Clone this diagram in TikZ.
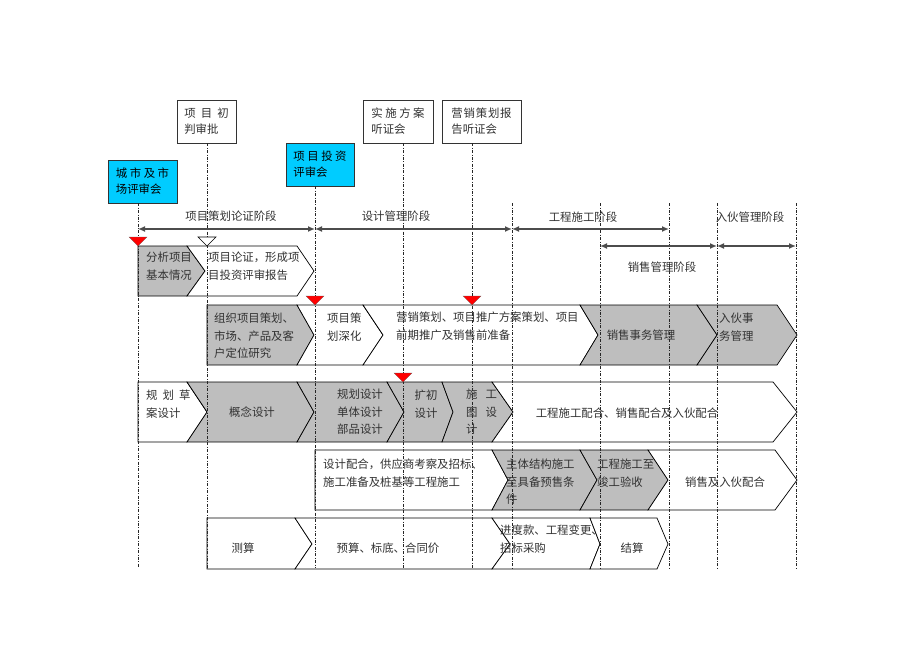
\documentclass[tikz,border=0pt]{standalone}
\usepackage{fontspec}
\newfontfamily\zhfont{Noto Sans CJK SC}
\usetikzlibrary{arrows.meta}

\definecolor{reviewcyan}{RGB}{0,204,255}
\definecolor{segfill}{RGB}{190,190,190}
\definecolor{inkgray}{RGB}{50,50,50}

\begin{document}
\begin{tikzpicture}[
  x=1pt, y=-1pt,
  font=\zhfont\fontsize{11.4}{17.5}\selectfont,
  meeting/.style={draw=black!80, fill=white, align=left, inner sep=0pt, text=inkgray,
    minimum height=43pt, font=\zhfont\fontsize{11.4}{16}\selectfont},
  review/.style={meeting, fill=reviewcyan, text=black},
  graystep/.style={draw=black, line width=0.7pt, fill=segfill},
  whitestep/.style={draw=black, line width=0.7pt, fill=white},
  steptext/.style={align=left, text=inkgray, inner sep=0pt},
  phasetext/.style={text=inkgray, inner sep=0pt},
  phasearrow/.style={<->, >={Latex[length=7pt,width=6pt]}, line width=1.5pt, draw=black!70},
  guide/.style={draw=black!85, line width=0.6pt, dash pattern=on 3pt off 1.5pt on 0.8pt off 1.5pt},
  redmark/.style={fill=red, draw=black!60, line width=0.3pt},
  openmark/.style={fill=white, draw=black, line width=0.6pt}
]
\useasboundingbox (0,0) rectangle (920,651);

% meetings on top
\node[meeting, minimum width=59pt] (judge) at (206.5,121.5) {项\ \ 目\ \ 初\\判审批};
\node[meeting, minimum width=70pt] (plan) at (398,121.5) {实\ 施\ 方\ 案\\听证会};
\node[meeting, minimum width=79pt] (mkt) at (481.5,121.5) {营\kern.8pt 销\kern.8pt 策\kern.8pt 划\kern.8pt 报\\告听证会};
\node[review, minimum width=69pt] (city) at (142.5,181.5) {城\ 市\ 及\ 市\\场评审会};
\node[review, minimum width=68pt] (invest) at (320,164.5) {项\ 目\ 投\ 资\\评审会};

% ends of the guide lines
\coordinate (b1) at (138,568);
\coordinate (b2) at (207,568);
\coordinate (b3) at (315,568);
\coordinate (b4) at (403,568);
\coordinate (b5) at (472,568);
\coordinate (b6) at (512,568);
\coordinate (b7) at (600,568);
\coordinate (b8) at (669,568);
\coordinate (b9) at (717,568);
\coordinate (b10) at (796,568);
\coordinate (t6) at (512,203);
\coordinate (t7) at (600,203);
\coordinate (t8) at (669,203);
\coordinate (t9) at (717,203);
\coordinate (t10) at (796,203);

% row 1: project argument
\draw[graystep] (138,246) -- (187,246) -- (205,271) -- (187,296) -- (138,296) -- cycle;
\draw[whitestep] (187,246) -- (297,246) -- (314,271) -- (297,296) -- (187,296) -- (205,271) -- cycle;

% row 2: planning and sales
\draw[graystep] (207,305) -- (297,305) -- (314,335) -- (297,365) -- (207,365) -- cycle;
\draw[whitestep] (297,305) -- (363,305) -- (383,335) -- (363,365) -- (297,365) -- (314,335) -- cycle;
\draw[whitestep] (363,305) -- (580,305) -- (598,335) -- (580,365) -- (363,365) -- (383,335) -- cycle;
\draw[graystep] (580,305) -- (697,305) -- (717,335) -- (697,365) -- (580,365) -- (598,335) -- cycle;
\draw[graystep] (697,305) -- (777,305) -- (797,335) -- (777,365) -- (697,365) -- (717,335) -- cycle;

% row 3: design
\draw[whitestep] (138,382) -- (187,382) -- (207,412) -- (187,442) -- (138,442) -- cycle;
\draw[graystep] (187,382) -- (297,382) -- (314,412) -- (297,442) -- (187,442) -- (207,412) -- cycle;
\draw[graystep] (297,382) -- (387,382) -- (404,412) -- (387,442) -- (297,442) -- (314,412) -- cycle;
\draw[graystep] (387,382) -- (442,382) -- (453,412) -- (442,442) -- (387,442) -- (404,412) -- cycle;
\draw[graystep] (442,382) -- (492,382) -- (513,412) -- (492,442) -- (442,442) -- (453,412) -- cycle;
\draw[whitestep] (492,382) -- (773,382) -- (797,412) -- (773,442) -- (492,442) -- (513,412) -- cycle;

% row 4: construction
\draw[whitestep] (315,450) -- (492,450) -- (508,480) -- (492,510) -- (315,510) -- cycle;
\draw[graystep] (492,450) -- (580,450) -- (597,480) -- (580,510) -- (492,510) -- (508,480) -- cycle;
\draw[graystep] (580,450) -- (648,450) -- (668,480) -- (648,510) -- (580,510) -- (597,480) -- cycle;
\draw[whitestep] (648,450) -- (775,450) -- (797,480) -- (775,510) -- (648,510) -- (668,480) -- cycle;

% row 5: cost
\draw[whitestep] (207,518) -- (295,518) -- (312,544) -- (295,569) -- (207,569) -- cycle;
\draw[whitestep] (295,518) -- (492,518) -- (510,544) -- (492,569) -- (295,569) -- (312,544) -- cycle;
\draw[whitestep] (492,518) -- (590,518) -- (600,544) -- (590,569) -- (492,569) -- (510,544) -- cycle;
\draw[whitestep] (590,518) -- (657,518) -- (668,544) -- (657,569) -- (590,569) -- (600,544) -- cycle;

% guide lines
\draw[guide] (city.south -| b1) -- (b1);
\draw[guide] (judge.south -| b2) -- (b2);
\draw[guide] (invest.south -| b3) -- (b3);
\draw[guide] (plan.south -| b4) -- (b4);
\draw[guide] (mkt.south -| b5) -- (b5);
\draw[guide] (t6) -- (b6);
\draw[guide] (t7) -- (b7);
\draw[guide] (t8) -- (b8);
\draw[guide] (t9) -- (b9);
\draw[guide] (t10) -- (b10);

% phases
\coordinate (p1) at (138,229);
\coordinate (p2) at (315,229);
\coordinate (p3) at (512,229);
\coordinate (p4) at (669,229);
\coordinate (q1) at (600,246);
\coordinate (q2) at (717,246);
\coordinate (q3) at (796,246);
\draw[phasearrow] (p1) -- (p2);
\draw[phasearrow] (p2) -- (p3);
\draw[phasearrow] (p3) -- (p4);
\draw[phasearrow] (q1) -- (q2);
\draw[phasearrow] (q2) -- (q3);
\node[phasetext] (ph1) at (231,216) {项目策划论证阶段};
\node[phasetext] (ph2) at (396,216) {设计管理阶段};
\node[phasetext] (ph3) at (583,217) {工程施工阶段};
\node[phasetext] (ph4) at (750,217) {入伙管理阶段};
\node[phasetext] (ph5) at (662,267) {销售管理阶段};

% milestones
\draw[redmark] (129,237) -- (147,237) -- (138,246) -- cycle;
\draw[openmark] (198,237) -- (216,237) -- (207,246) -- cycle;
\draw[redmark] (306,296) -- (324,296) -- (315,305) -- cycle;
\draw[redmark] (463,296) -- (481,296) -- (472,305) -- cycle;
\draw[redmark] (394,373) -- (412,373) -- (403,382) -- cycle;

% texts
\node[steptext, anchor=west] (tA1) at (146,266) {分析项目\\基本情况};
\node[steptext, anchor=west] (tA2) at (208,266) {项目论证，形成项\\目投资评审报告};

\node[steptext, anchor=west] (tB1) at (214,336) {组织项目策划、\\市场、产品及客\\户定位研究};
\node[steptext, anchor=west] (tB2) at (327,327) {项目策\\划深化};
\node[steptext, anchor=west] (tB3) at (396,326) {营销策划、项目推广方案策划、项目\\前期推广及销售前准备};
\node[steptext] (tB4) at (641,335) {销售事务管理};
\node[steptext, anchor=west] (tB5) at (719,327) {入伙事\\务管理};

\node[steptext, anchor=west] (tC1) at (146,404) {规\ \ 划\ \ 草\\案设计};
\node[steptext] (tC2) at (252,412) {概念设计};
\node[steptext, align=center] (tC3) at (360,412) {规划设计\\单体设计\\部品设计};
\node[steptext] (tC4) at (426,404) {扩初\\设计};
\node[steptext, anchor=west] (tC5) at (466,412) {施\hspace{8pt}工\\图\hspace{8pt}设\\计};
\node[steptext] (tC6) at (627,413) {工程施工配合、销售配合及入伙配合};

\node[steptext, anchor=west] (tD1) at (323,473) {设计配合，供应商考察及招标、\\施工准备及桩基等工程施工};
\node[steptext, anchor=west] (tD2) at (506,482) {主体结构施工\\至具备预售条\\件};
\node[steptext, anchor=west] (tD3) at (597,473) {工程施工至\\竣工验收};
\node[steptext] (tD4) at (725,482) {销售及入伙配合};

\node[steptext] (tE1) at (243,548) {测算};
\node[steptext] (tE2) at (388,548) {预算、标底、合同价};
\node[steptext, anchor=west] (tE3) at (500,539) {进度款、工程变更、\\招标采购};
\node[steptext] (tE4) at (632,548) {结算};

\end{tikzpicture}
\end{document}
